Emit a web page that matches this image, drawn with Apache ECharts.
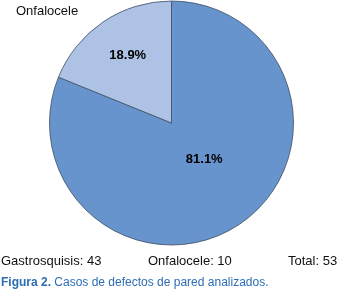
<!DOCTYPE html>
<html>
<head>
<meta charset="utf-8">
<script src="https://cdn.jsdelivr.net/npm/echarts@6/dist/echarts.min.js"></script>
<style>
html,body{margin:0;padding:0;background:#fff;}
#c{width:341px;height:298px;}
</style>
</head>
<body>
<div id="c"></div>
<script>
const categories = ['Gastrosquisis', 'Onfalocele'];
const values = [43, 10];
const percentLabels = ['81.1%', '18.9%'];
const sliceColors = ['#6794cc', '#adc2e4'];
const labelOffsets = [[-3, -17], [-8, -14]];
const total = 53;
const topLabel = 'Onfalocele';
const captionBold = 'Figura 2.';
const captionText = ' Casos de defectos de pared analizados.';

const chart = echarts.init(document.getElementById('c'), null, {renderer: 'canvas'});
const font = 'Liberation Sans, Arial, Helvetica, sans-serif';
const plain = {fontFamily: font, fontSize: 13, fontWeight: 'normal', color: '#111'};
chart.setOption({
  animation: false,
  title: [
    {text: topLabel, left: 16, top: 5, padding: 0, textStyle: plain},
    {text: categories[0] + ': ' + values[0], left: 1, top: 255, padding: 0, textStyle: plain},
    {text: categories[1] + ': ' + values[1], left: 148, top: 255, padding: 0, textStyle: plain},
    {text: 'Total: ' + total, left: 288, top: 255, padding: 0, textStyle: plain},
    {text: '{b|' + captionBold + '}{n|' + captionText + '}', left: 1, top: 277, padding: 0,
      textStyle: {fontFamily: font, fontSize: 12, fontWeight: 'normal', color: '#2d6db4',
        rich: {b: {fontFamily: font, fontSize: 12, fontWeight: 'bold', color: '#2d6db4'},
               n: {fontFamily: font, fontSize: 12, fontWeight: 'normal', color: '#2d6db4'}}}}
  ],
  series: [{
    type: 'pie',
    center: [171.5, 123],
    radius: 122,
    startAngle: 90,
    clockwise: true,
    silent: true,
    labelLine: {show: false},
    itemStyle: {borderColor: '#3e4d63', borderWidth: 0.8},
    label: {
      show: true, position: 'inside',
      fontFamily: font, fontSize: 13, fontWeight: 'bold', color: '#000',
      formatter: p => percentLabels[p.dataIndex]
    },
    data: categories.map((c, i) => ({
      name: c, value: values[i],
      itemStyle: {color: sliceColors[i]},
      label: {offset: labelOffsets[i]}
    }))
  }]
});
</script>
</body>
</html>
